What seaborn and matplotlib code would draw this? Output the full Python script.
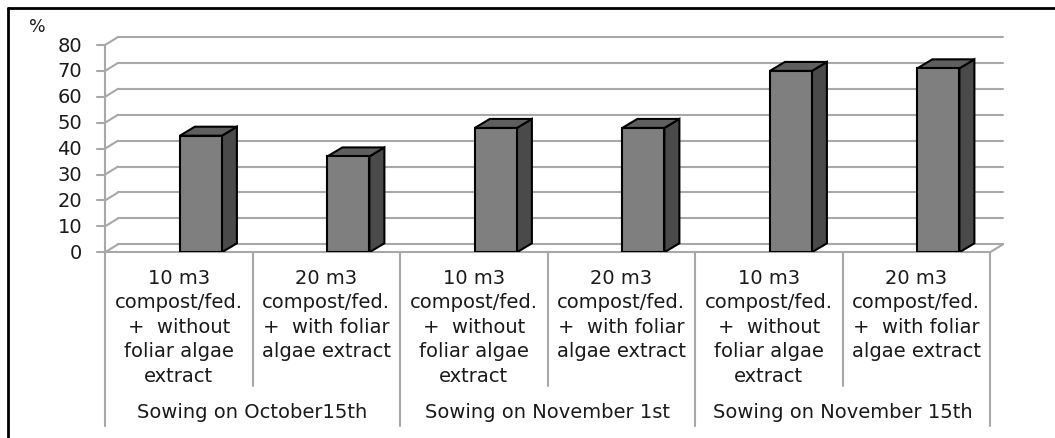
import matplotlib
matplotlib.use("Agg")
import matplotlib.pyplot as plt
from matplotlib.patches import Polygon
from matplotlib.lines import Line2D
import seaborn as sns
import pandas as pd

# ---- data ----
groups = ["Sowing on October15th", "Sowing on November 1st", "Sowing on November 15th"]
treatments = ["10 m3\ncompost/fed.\n+  without\nfoliar algae\nextract",
              "20 m3\ncompost/fed.\n+  with foliar\nalgae extract"]
values = [45, 37, 48, 48, 70, 71]
yticks = [0, 10, 20, 30, 40, 50, 60, 70, 80]

rows = []
k = 0
for g in groups:
    for t in treatments:
        rows.append({"key": f"{g}|{t}", "group": g, "treatment": t, "value": values[k]})
        k += 1
df = pd.DataFrame(rows)
order = list(df["key"])

sns.set_theme(style="white")
plt.rcParams['font.family'] = ['DejaVu Sans']

W, H = 1055, 439
fig = plt.figure(figsize=(W / 100, H / 100), dpi=100)
fig.patch.set_facecolor("white")

# axes geometry (pixels)
px_unit_x = 147.5
px_unit_y = 2.591
x_front0 = 105
y_front0 = 253.3
wall_dx = 13 / px_unit_x
wall_dy = 8 / px_unit_y
bar_dx = 15 / px_unit_x
bar_dy = 9 / px_unit_y
ytop = 84
xmax = 5.5 + wall_dx
ax_w = (xmax + 0.5) * px_unit_x
ax_h = ytop * px_unit_y
ax = fig.add_axes([x_front0 / W, (H - y_front0) / H, ax_w / W, ax_h / H])
ax.set_facecolor("none")

front = "#7f7f7f"
side = "#4a4a4a"
topc = "#5f5f5f"
grid = "#a8a8a8"
txt = "#1a1a1a"

sns.barplot(data=df, x="key", y="value", order=order, color=front, saturation=1,
            width=0.285, edgecolor="black", linewidth=1.5, ax=ax, zorder=3)

ax.set_xlim(-0.5, xmax)
ax.set_ylim(0, ytop)

# back wall gridlines with left-side diagonals
for yv in yticks:
    ax.plot([-0.5, -0.5 + wall_dx], [yv, yv + wall_dy], color=grid, lw=1.5, zorder=1, clip_on=False)
    ax.plot([-0.5 + wall_dx, 5.5 + wall_dx], [yv + wall_dy, yv + wall_dy], color=grid, lw=1.5,
            zorder=1, clip_on=False)
# floor
ax.plot([-0.5, 5.5], [0, 0], color=grid, lw=1.5, zorder=1, clip_on=False)
ax.plot([5.5, 5.5 + wall_dx], [0, wall_dy], color=grid, lw=1.5, zorder=1, clip_on=False)
# left axis
ax.plot([-0.5, -0.5], [0, yticks[-1]], color=grid, lw=1.5, zorder=1, clip_on=False)
for yv in yticks:
    ax.plot([-0.5 - 8 / px_unit_x, -0.5], [yv, yv], color=grid, lw=1.5, zorder=1, clip_on=False)
    ax.text(-0.5 - 23 / px_unit_x, yv, str(yv), ha="right", va="center", fontsize=14,
            color=txt)

# 3D faces on the bars
for p in ax.patches:
    p.set_x(p.get_x() + 0.15)
    x0 = p.get_x()
    x1 = x0 + p.get_width()
    h = p.get_height()
    sidep = Polygon([(x1, 0), (x1 + bar_dx, bar_dy), (x1 + bar_dx, h + bar_dy), (x1, h)],
                    closed=True, facecolor=side, edgecolor="black", lw=1.5, zorder=2.5)
    topp = Polygon([(x0, h), (x0 + bar_dx, h + bar_dy), (x1 + bar_dx, h + bar_dy), (x1, h)],
                   closed=True, facecolor=topc, edgecolor="black", lw=1.5, zorder=2.5)
    ax.add_patch(sidep)
    ax.add_patch(topp)

for s in ax.spines.values():
    s.set_visible(False)
ax.set_xticks([])
ax.set_yticks([])
ax.set_xlabel("")
ax.set_ylabel("")

# category label table
def ypx(px):
    return (y_front0 - px) / px_unit_y

for i, t in enumerate(df["treatment"]):
    ax.text(i, ypx(269), t, ha="center", va="top", fontsize=14, color=txt,
            linespacing=1.36, clip_on=False)
for j, g in enumerate(groups):
    ax.text(2 * j + 0.5, ypx(413), g, ha="center", va="center", fontsize=14, color=txt,
            clip_on=False)
for i in range(7):
    xd = -0.5 + i
    bottom = ypx(427) if i % 2 == 0 else ypx(387)
    ax.plot([xd, xd], [0, bottom], color=grid, lw=1.5, clip_on=False, zorder=1)

fig.text(37 / W, 1 - 27 / H, "%", ha="center", va="center", fontsize=12.5, color=txt)

# outer frame
fig.add_artist(Line2D([8 / W, 1], [1 - 9 / H, 1 - 9 / H], color="black", lw=2,
                      transform=fig.transFigure))
fig.add_artist(Line2D([8 / W, 8 / W], [0, 1 - 9 / H], color="black", lw=2,
                      transform=fig.transFigure))

fig.savefig("out.png", dpi=100)
